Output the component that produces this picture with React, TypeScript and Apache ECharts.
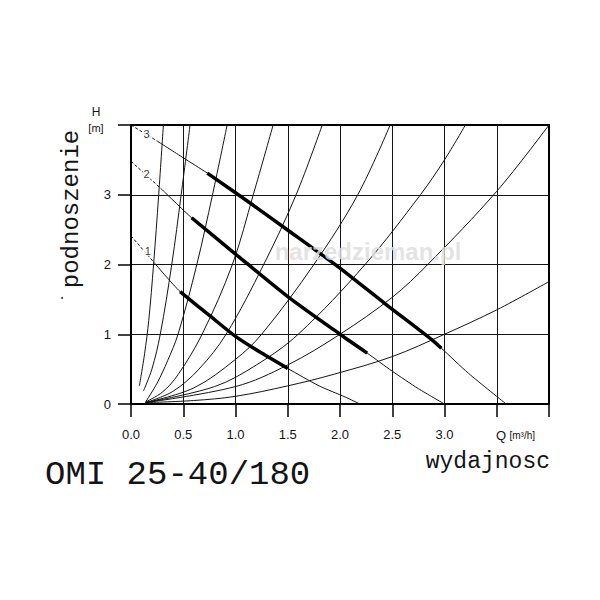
import React, { useEffect, useRef } from "react";
import * as echarts from "echarts";

// Axis tick labels
const xTickLabels = ["0.0", "0.5", "1.0", "1.5", "2.0", "2.5", "3.0"];
const yTickLabels = ["0", "1", "2", "3"];

// System (resistance) curves: [Q m3/h, H m]
const sysA = [[0.08, 0.26], [0.13, 0.72], [0.17, 1.2], [0.216, 2.0], [0.265, 3.0], [0.31, 4.0]];
const sysB = [[0.12, 0.19], [0.2, 0.5], [0.28, 1.0], [0.39, 2.0], [0.48, 3.0], [0.565, 4.0]];
const sysC = [[0.14, 0.03], [0.25, 0.3], [0.35, 0.62], [0.45, 1.0], [0.63, 2.0], [0.78, 3.0], [0.92, 4.0]];
const sysD = [[0.14, 0.03], [0.3, 0.17], [0.45, 0.42], [0.68, 1.0], [0.97, 2.0], [1.17, 3.0], [1.36, 4.0]];
const sysE = [[0.14, 0.02], [0.4, 0.18], [0.65, 0.5], [0.91, 1.0], [1.27, 2.0], [1.58, 3.0], [1.83, 4.0]];
const sysF = [[0.14, 0.02], [0.6, 0.23], [1.0, 0.64], [1.25, 1.0], [1.75, 2.0], [2.17, 3.0], [2.48, 4.0]];
const sysG = [[0.14, 0.02], [0.8, 0.25], [1.2, 0.56], [1.6, 1.0], [2.24, 2.0], [2.77, 3.0], [3.0, 3.5], [3.2, 4.0]];
const sysH = [[0.14, 0.02], [1.0, 0.25], [1.5, 0.56], [2.0, 1.0], [2.5, 1.53], [2.84, 2.0], [3.5, 3.05], [4.0, 4.0]];
const sysI = [[0.14, 0.02], [0.6, 0.05], [1.0, 0.11], [1.5, 0.26], [1.95, 0.43], [2.5, 0.68], [3.0, 1.0], [3.5, 1.35], [4.0, 1.755]];
const systemCurves = [sysA, sysB, sysC, sysD, sysE, sysF, sysG, sysH, sysI];

// Pump curves (speed steps 1, 2, 3)
const pump1 = [[0, 2.41], [0.22, 2.03], [0.47, 1.61], [0.75, 1.27], [1.0, 0.97], [1.25, 0.73], [1.5, 0.51], [1.8, 0.26], [2.05, 0.1], [2.19, 0]];
const pump2 = [[0, 3.48], [0.3, 3.07], [0.58, 2.67], [1.0, 2.15], [1.5, 1.54], [2.0, 1.0], [2.26, 0.73], [2.5, 0.47], [2.75, 0.22], [3.0, 0]];
const pump3 = [[0, 4.0], [0.25, 3.77], [0.5, 3.53], [0.73, 3.31], [1.16, 2.86], [1.475, 2.52], [1.98, 1.97], [2.43, 1.44], [2.88, 0.92], [2.97, 0.8], [3.23, 0.44], [3.59, 0]];
const pumpCurves = [pump1, pump2, pump3];
// Thick (recommended) working range of each pump curve [Qstart, Qend]
const thickRanges = [[0.47, 1.5], [0.58, 2.26], [0.73, 2.97]];
// Dashed start of each pump curve ends at this Q
const dashedEnds = [0.22, 0.3, 0.25];
// Curve number labels [Q, H, text]
const pumpLabels = [[0.16, 2.2, "1"], [0.15, 3.3, "2"], [0.15, 3.87, "3"]];

const INK = "#141414";

function buildOption() {
  const series: any[] = [];
  systemCurves.forEach((d) => {
    series.push({
      type: "line", data: d, smooth: 0.35, symbol: "none", silent: true, z: 2,
      lineStyle: { color: INK, width: 1 },
    });
  });
  pumpCurves.forEach((d, i) => {
    const dashEnd = dashedEnds[i];
    series.push({
      type: "line", data: d.filter((p) => p[0] <= dashEnd), smooth: false, symbol: "none", silent: true, z: 3,
      lineStyle: { color: INK, width: 1, type: [3, 2] },
    });
    series.push({
      type: "line", data: d.filter((p) => p[0] >= dashEnd), smooth: 0.25, symbol: "none", silent: true, z: 3,
      lineStyle: { color: INK, width: 1 },
    });
    const [a, b] = thickRanges[i];
    series.push({
      type: "line", data: d.filter((p) => p[0] >= a && p[0] <= b), smooth: 0.25, symbol: "none", silent: true, z: 4,
      lineStyle: { color: "#000", width: 3.5 },
    });
  });
  series.push({
    type: "scatter", silent: true, z: 5, symbolSize: 1,
    itemStyle: { color: "rgba(0,0,0,0)" },
    data: pumpLabels.map((p) => ({ value: [p[0], p[1]], name: p[2] })),
    label: {
      show: true, position: "inside", formatter: (p: any) => p.name,
      fontFamily: "Liberation Sans", fontSize: 11, color: "#000",
      backgroundColor: "#fff", padding: [0, 1],
    },
  });

  return {
    animation: false,
    backgroundColor: "#fff",
    grid: { left: 131, top: 125, width: 418, height: 279, containLabel: false },
    xAxis: [
      {
        type: "value", min: 0, max: 4, interval: 0.5,
        axisLine: { show: true, onZero: false, lineStyle: { color: "#000", width: 2 } },
        axisTick: { show: true, length: 13, lineStyle: { color: "#000", width: 1.5 } },
        splitLine: { show: true, lineStyle: { color: INK, width: 1 } },
        axisLabel: {
          margin: 24, fontFamily: "Liberation Sans", fontSize: 13, color: INK,
          formatter: (v: number) => {
            const idx = Math.round(v * 2);
            return idx < xTickLabels.length ? xTickLabels[idx] : "";
          },
        },
      },
      {
        type: "value", position: "top", min: 0, max: 4,
        axisLine: { show: true, onZero: false, lineStyle: { color: "#000", width: 2 } },
        axisTick: { show: false }, axisLabel: { show: false }, splitLine: { show: false },
      },
    ],
    yAxis: [
      {
        type: "value", min: 0, max: 4, interval: 1,
        axisLine: { show: true, onZero: false, lineStyle: { color: "#000", width: 2 } },
        axisTick: { show: true, length: 13, lineStyle: { color: "#000", width: 1.5 } },
        splitLine: { show: true, lineStyle: { color: INK, width: 1 } },
        axisLabel: {
          margin: 20, fontFamily: "Liberation Sans", fontSize: 13, color: INK,
          formatter: (v: number) => (v < yTickLabels.length ? yTickLabels[v] : ""),
        },
      },
      {
        type: "value", position: "right", min: 0, max: 4,
        axisLine: { show: true, onZero: false, lineStyle: { color: "#000", width: 2 } },
        axisTick: { show: false }, axisLabel: { show: false }, splitLine: { show: false },
      },
    ],
    graphic: [
      {
        type: "text", x: 496, y: 435, z: 10,
        style: {
          text: "{q|Q} {u|[m³/h]}", textAlign: "left", textVerticalAlign: "middle",
          rich: {
            q: { fontFamily: "Liberation Sans", fontSize: 13, fill: INK },
            u: { fontFamily: "Liberation Sans", fontSize: 10, fill: INK },
          },
        },
      },
      {
        type: "text", x: 96, y: 112, z: 10,
        style: { text: "H", fontFamily: "Liberation Sans", fontSize: 12, fill: INK, textAlign: "center", textVerticalAlign: "middle" },
      },
      {
        type: "text", x: 96, y: 128, z: 10,
        style: { text: "[m]", fontFamily: "Liberation Sans", fontSize: 11, fill: INK, textAlign: "center", textVerticalAlign: "middle" },
      },
      {
        type: "text", x: 71, y: 209, rotation: Math.PI / 2, z: 10,
        style: { text: "podnoszenie", fontFamily: "Liberation Mono", fontSize: 24, fill: INK, textAlign: "center", textVerticalAlign: "middle" },
      },
      {
        type: "circle", shape: { cx: 62, cy: 298, r: 1 }, style: { fill: "#333" }, z: 10,
      },
      {
        type: "text", x: 550, y: 462, z: 10,
        style: { text: "wydajnosc", fontFamily: "Liberation Mono", fontSize: 23, fill: INK, textAlign: "right", textVerticalAlign: "middle" },
      },
      {
        type: "text", x: 45, y: 475, z: 10,
        style: { text: "OMI 25-40/180", fontFamily: "Liberation Mono", fontSize: 34, fill: INK, textAlign: "left", textVerticalAlign: "middle" },
      },
      {
        type: "text", x: 368, y: 251, z: 100,
        style: {
          text: "narzedzieman.pl", fontFamily: "Liberation Sans", fontWeight: "bold", fontSize: 24,
          fill: "rgba(222,222,222,0.85)", textAlign: "center", textVerticalAlign: "middle",
        },
      },
    ],
    series,
  };
}

export default function App() {
  const ref = useRef<HTMLDivElement>(null);
  useEffect(() => {
    if (!ref.current) return;
    const chart = echarts.init(ref.current, null, { renderer: "svg" });
    chart.setOption(buildOption() as any);
    return () => chart.dispose();
  }, []);
  return (
    <div
      ref={ref}
      style={{ position: "fixed", left: 0, top: 0, width: 600, height: 600, background: "#fff" }}
    />
  );
}
